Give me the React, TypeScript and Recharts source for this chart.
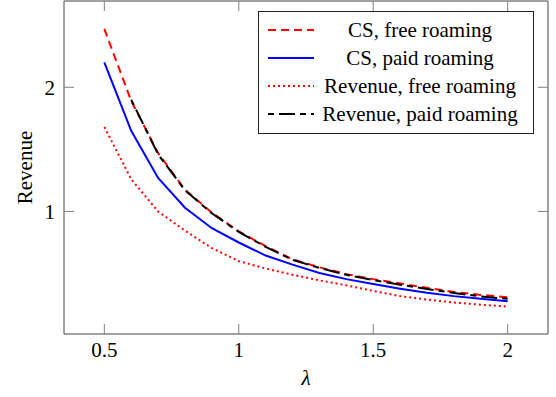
import React from 'react';
import { LineChart, Line, XAxis, YAxis, Legend, Label } from 'recharts';

const lambdas = [0.5, 0.6, 0.7, 0.8, 0.9, 1.0, 1.1, 1.2, 1.3, 1.4, 1.5, 1.6, 1.7, 1.8, 1.9, 2.0];
const csFree = [2.47, 1.89, 1.47, 1.175, 0.99, 0.84, 0.72, 0.615, 0.55, 0.495, 0.455, 0.42, 0.385, 0.352, 0.328, 0.309];
const csPaid = [2.2, 1.65, 1.27, 1.03, 0.865, 0.75, 0.645, 0.572, 0.505, 0.455, 0.415, 0.378, 0.345, 0.318, 0.296, 0.277];
const revFree = [1.68, 1.26, 1.0, 0.845, 0.705, 0.6, 0.54, 0.49, 0.445, 0.405, 0.36, 0.318, 0.29, 0.267, 0.249, 0.234];
const revPaid = [null, 1.9, 1.46, 1.17, 0.985, 0.835, 0.715, 0.61, 0.545, 0.49, 0.447, 0.41, 0.376, 0.344, 0.316, 0.296];

const xTicks = [0.5, 1, 1.5, 2];
const yTicks = [1, 2];
const xTickLabels = ['0.5', '1', '1.5', '2'];
const yTickLabels = ['1', '2'];

const seriesKeys = ['csFree', 'csPaid', 'revFree', 'revPaid'];
const seriesNames = ['CS, free roaming', 'CS, paid roaming', 'Revenue, free roaming', 'Revenue, paid roaming'];
const seriesColors = ['#ff0000', '#0000ff', '#ff0000', '#000000'];
const seriesDash = ['8 5', undefined, '2 3', '6 5 16 5'];

const data = lambdas.map((x, i) => ({
  x,
  csFree: csFree[i],
  csPaid: csPaid[i],
  revFree: revFree[i],
  revPaid: revPaid[i],
}));

const FONT = "'Liberation Serif', 'Times New Roman', serif";
const xDomain: [number, number] = [0.35, 2.15];
const yDomain: [number, number] = [0.013, 2.695];

const axisLine = { stroke: '#444', strokeWidth: 1 };
const tickLine = { stroke: '#808080', strokeWidth: 1 };

const XTick = (props: any) => {
  const { x, y, payload } = props;
  const idx = xTicks.indexOf(payload.value);
  return (
    <text x={x} y={y} dy="0.71em" textAnchor="middle" fontFamily={FONT} fontSize={21} fill="#000">
      {idx >= 0 ? xTickLabels[idx] : String(payload.value)}
    </text>
  );
};

const YTick = (props: any) => {
  const { x, y, payload } = props;
  const idx = yTicks.indexOf(payload.value);
  return (
    <text x={x} y={y} dy="0.355em" textAnchor="end" fontFamily={FONT} fontSize={21} fill="#000">
      {idx >= 0 ? yTickLabels[idx] : String(payload.value)}
    </text>
  );
};

const EmptyTick = () => <g />;

const renderLegend = () => (
  <div
    style={{
      position: 'relative',
      width: 276,
      height: 123,
      boxSizing: 'border-box',
      border: '1px solid #222',
      background: '#fff',
      fontFamily: FONT,
      fontSize: 21,
      color: '#000',
    }}
  >
    {seriesKeys.map((k, i) => (
      <div key={k} style={{ position: 'absolute', left: 0, top: 4 + 28 * i, width: '100%', height: 28 }}>
        <svg width={46} height={28} style={{ position: 'absolute', left: 9, top: 0 }}>
          <line x1={0} y1={14} x2={46} y2={14} stroke={seriesColors[i]} strokeWidth={2} strokeDasharray={seriesDash[i]} />
        </svg>
        <div
          style={{
            position: 'absolute',
            left: 55,
            width: 212,
            top: 0,
            height: 28,
            lineHeight: '28px',
            textAlign: 'center',
            whiteSpace: 'nowrap',
          }}
        >
          {seriesNames[i]}
        </div>
      </div>
    ))}
  </div>
);

export default function App() {
  return (
    <div style={{ position: 'absolute', left: 0, top: 0, width: 556, height: 397, background: '#fff' }}>
      <LineChart width={556} height={397} data={data} margin={{ top: 0, right: 7, bottom: 0, left: 0 }}>
        <XAxis
          dataKey="x"
          type="number"
          domain={xDomain}
          allowDataOverflow
          ticks={xTicks}
          height={63}
          tickSize={-10}
          tickMargin={18}
          tick={<XTick />}
          axisLine={axisLine}
          tickLine={tickLine}
          interval={0}
        >
          <Label
            content={(props: any) => {
              const vb = props.viewBox || { x: 64, y: 334, width: 484 };
              return (
                <text
                  x={vb.x + vb.width / 2}
                  y={385}
                  textAnchor="middle"
                  fontFamily={FONT}
                  fontSize={21}
                  fontStyle="italic"
                  fill="#000"
                >
                  λ
                </text>
              );
            }}
          />
        </XAxis>
        <XAxis
          xAxisId="top"
          orientation="top"
          dataKey="x"
          type="number"
          domain={xDomain}
          allowDataOverflow
          ticks={xTicks}
          height={1}
          tickSize={-10}
          tick={<EmptyTick />}
          axisLine={axisLine}
          tickLine={tickLine}
          interval={0}
        />
        <YAxis
          type="number"
          domain={yDomain}
          allowDataOverflow
          ticks={yTicks}
          width={64}
          tickSize={-10}
          tickMargin={19}
          tick={<YTick />}
          axisLine={axisLine}
          tickLine={tickLine}
          interval={0}
        >
          <Label
            content={(props: any) => {
              const vb = props.viewBox || { x: 0, y: 1, width: 64, height: 333 };
              const cx = 32;
              const cy = vb.y + vb.height / 2;
              return (
                <text
                  x={cx}
                  y={cy}
                  transform={`rotate(-90, ${cx}, ${cy})`}
                  textAnchor="middle"
                  fontFamily={FONT}
                  fontSize={21}
                  fill="#000"
                >
                  Revenue
                </text>
              );
            }}
          />
        </YAxis>
        <YAxis
          yAxisId="right"
          orientation="right"
          type="number"
          domain={yDomain}
          allowDataOverflow
          ticks={yTicks}
          width={1}
          tickSize={-10}
          tick={<EmptyTick />}
          axisLine={axisLine}
          tickLine={tickLine}
          interval={0}
        />
        <Line
          xAxisId="top"
          yAxisId="right"
          dataKey="csPaid"
          stroke="none"
          dot={false}
          activeDot={false}
          legendType="none"
          isAnimationActive={false}
        />
        {seriesKeys.map((k, i) => (
          <Line
            key={k}
            dataKey={k}
            name={seriesNames[i]}
            type="linear"
            stroke={seriesColors[i]}
            strokeWidth={2}
            strokeDasharray={seriesDash[i]}
            dot={false}
            activeDot={false}
            isAnimationActive={false}
          />
        ))}
        <Legend
          layout="horizontal"
          verticalAlign="middle"
          align="center"
          content={renderLegend}
          wrapperStyle={{ left: 258, top: 11, width: 276, height: 123 }}
        />
      </LineChart>
    </div>
  );
}
